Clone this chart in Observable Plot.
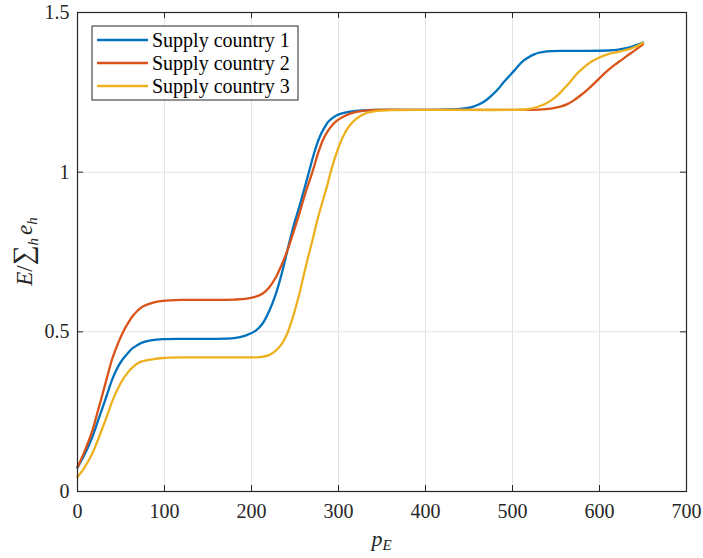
<!DOCTYPE html>
<html><head><meta charset="utf-8">
<script src="https://cdn.jsdelivr.net/npm/d3@7"></script>
<script src="https://cdn.jsdelivr.net/npm/@observablehq/plot@0.6"></script>
<style>body{margin:0;background:#fff}</style>
</head><body><div id="chart"></div>
<script>
const seriesNames = ["Supply country 1", "Supply country 2", "Supply country 3"];
const seriesColors = ["#0072BD", "#D95319", "#EDB120"];

const blueX = [0, 8, 17, 23, 29, 35, 40, 46, 52, 58, 63, 69, 75, 86, 98, 120, 150, 180, 193, 205, 213, 220, 228, 235, 241, 248, 255, 261, 266, 272, 278, 284, 289, 297, 305, 320, 340, 380, 420, 440, 452, 463, 470, 478, 484, 490, 496, 502, 507, 513, 519, 525, 530, 536, 545, 555, 580, 610, 620, 632, 641, 650];
const blueY = [0.075, 0.115, 0.17, 0.217, 0.264, 0.312, 0.352, 0.388, 0.414, 0.434, 0.448, 0.459, 0.467, 0.474, 0.477, 0.478, 0.478, 0.480, 0.488, 0.504, 0.527, 0.563, 0.619, 0.685, 0.752, 0.828, 0.892, 0.95, 1.0, 1.06, 1.108, 1.14, 1.16, 1.177, 1.185, 1.192, 1.195, 1.195, 1.196, 1.198, 1.203, 1.214, 1.226, 1.245, 1.262, 1.282, 1.300, 1.318, 1.334, 1.350, 1.361, 1.369, 1.374, 1.377, 1.379, 1.38, 1.38, 1.381, 1.383, 1.389, 1.397, 1.406];

const redX = [0, 8, 17, 23, 29, 35, 40, 46, 52, 58, 63, 69, 75, 86, 98, 120, 150, 180, 193, 205, 213, 220, 228, 235, 240, 248, 255, 262, 270, 276, 282, 288, 293, 299, 305, 315, 328, 345, 400, 500, 530, 544, 555, 563, 570, 578, 586, 594, 601, 609, 617, 625, 632, 641, 650];
const redY = [0.076, 0.125, 0.19, 0.248, 0.307, 0.368, 0.416, 0.46, 0.497, 0.527, 0.548, 0.566, 0.579, 0.591, 0.597, 0.6, 0.6, 0.601, 0.603, 0.61, 0.62, 0.638, 0.671, 0.712, 0.746, 0.81, 0.87, 0.935, 1.0, 1.055, 1.1, 1.13, 1.148, 1.163, 1.173, 1.185, 1.192, 1.195, 1.195, 1.195, 1.196, 1.199, 1.205, 1.213, 1.224, 1.24, 1.258, 1.278, 1.297, 1.317, 1.335, 1.351, 1.365, 1.382, 1.40];

const yellowX = [0, 8, 17, 23, 29, 35, 40, 46, 52, 58, 63, 69, 75, 86, 98, 120, 180, 210, 220, 228, 235, 241, 248, 255, 262, 270, 276, 282, 287, 291, 298, 305, 312, 320, 331, 345, 360, 400, 500, 517, 528, 536, 544, 552, 559, 567, 574, 582, 590, 598, 605, 612, 620, 628, 636, 643, 650];
const yellowY = [0.045, 0.075, 0.119, 0.158, 0.201, 0.245, 0.283, 0.32, 0.35, 0.373, 0.388, 0.401, 0.408, 0.414, 0.418, 0.42, 0.42, 0.421, 0.427, 0.441, 0.463, 0.494, 0.55, 0.619, 0.7, 0.786, 0.853, 0.911, 0.958, 1.0, 1.062, 1.11, 1.143, 1.166, 1.184, 1.192, 1.194, 1.195, 1.195, 1.197, 1.204, 1.212, 1.224, 1.241, 1.261, 1.285, 1.308, 1.328, 1.345, 1.357, 1.365, 1.371, 1.376, 1.381, 1.387, 1.395, 1.405];

const xTicks = [0, 100, 200, 300, 400, 500, 600, 700];
const yTicks = [0, 0.5, 1, 1.5];
const yTickLabels = ["0", "0.5", "1", "1.5"];

const W = 703, H = 558, ML = 77, MR = 17, MT = 12, MB = 67;
const innerW = W - ML - MR, innerH = H - MT - MB;
const TICK = 6;
const AX = "#262626";
const FONT = "'Liberation Serif', 'DejaVu Serif', serif";

const rows = [];
[[blueX, blueY], [redX, redY], [yellowX, yellowY]].forEach(([xs, ys], i) =>
  xs.forEach((x, j) => rows.push({series: seriesNames[i], x, y: ys[j]})));

const plot = Plot.plot({
  width: W, height: H,
  marginLeft: ML, marginRight: MR, marginTop: MT, marginBottom: MB,
  style: {fontFamily: FONT, fontSize: "20px", background: "#fff", color: AX},
  x: {domain: [0, 700]},
  y: {domain: [0, 1.5]},
  color: {domain: seriesNames, range: seriesColors},
  marks: [
    Plot.gridX(xTicks, {stroke: "#e3e3e3", strokeOpacity: 1}),
    Plot.gridY(yTicks, {stroke: "#e3e3e3", strokeOpacity: 1}),
    Plot.line(rows, {x: "x", y: "y", z: "series", stroke: "series", strokeWidth: 2.3, curve: "catmull-rom"}),
    Plot.ruleX(xTicks, {x: d => d, insetTop: innerH - TICK, stroke: AX}),
    Plot.ruleX(xTicks, {x: d => d, insetBottom: innerH - TICK, stroke: AX}),
    Plot.ruleY(yTicks, {y: d => d, insetRight: innerW - TICK, stroke: AX}),
    Plot.ruleY(yTicks, {y: d => d, insetLeft: innerW - TICK, stroke: AX}),
    Plot.frame({stroke: AX, strokeWidth: 1.2}),
    Plot.axisX(xTicks, {tickSize: 0, tickPadding: 12, label: null, fill: AX}),
    Plot.axisY(yTicks, {tickSize: 0, tickPadding: 8, label: null, fill: AX,
      tickFormat: d => yTickLabels[yTicks.indexOf(d)]})
  ]
});
document.getElementById("chart").appendChild(plot);

const svg = d3.select(plot);

// x label p_E
const xl = svg.append("text")
  .attr("x", ML + innerW / 2).attr("y", H - 12)
  .attr("text-anchor", "middle").attr("font-size", 22).attr("fill", AX)
  .attr("font-family", FONT);
xl.append("tspan").attr("font-style", "italic").text("p");
xl.append("tspan").attr("font-style", "italic").attr("font-size", 15).attr("dy", 4).text("E");

// y label E / sum_h e_h
const yl = svg.append("text")
  .attr("transform", `translate(32,${MT + innerH / 2}) rotate(-90)`)
  .attr("text-anchor", "middle").attr("font-size", 23).attr("fill", AX)
  .attr("font-family", FONT);
yl.append("tspan").attr("font-style", "italic").text("E");
yl.append("tspan").text("/");
yl.append("tspan").attr("font-size", 28).text("∑");
yl.append("tspan").attr("font-style", "italic").attr("font-size", 15).attr("dy", 6).text("h");
yl.append("tspan").attr("font-style", "italic").attr("dy", -6).attr("dx", 3).text("e");
yl.append("tspan").attr("font-style", "italic").attr("font-size", 15).attr("dy", 5).text("h");

// legend
const lx = ML + 15, ly = MT + 14, lw = 206, lh = 74;
const lg = svg.append("g").attr("text-anchor", "start");
lg.append("rect").attr("x", lx).attr("y", ly).attr("width", lw).attr("height", lh)
  .attr("fill", "#fff").attr("stroke", AX).attr("stroke-width", 1);
seriesNames.forEach((name, i) => {
  const cy = ly + 14 + i * 23;
  lg.append("line").attr("x1", lx + 5).attr("x2", lx + 56).attr("y1", cy).attr("y2", cy)
    .attr("stroke", seriesColors[i]).attr("stroke-width", 2.3);
  lg.append("text").attr("x", lx + 60).attr("y", cy).attr("dy", "0.33em")
    .attr("text-anchor", "start")
    .attr("font-size", 20).attr("fill", "#000").attr("font-family", FONT).text(name);
});
</script>
</body></html>
